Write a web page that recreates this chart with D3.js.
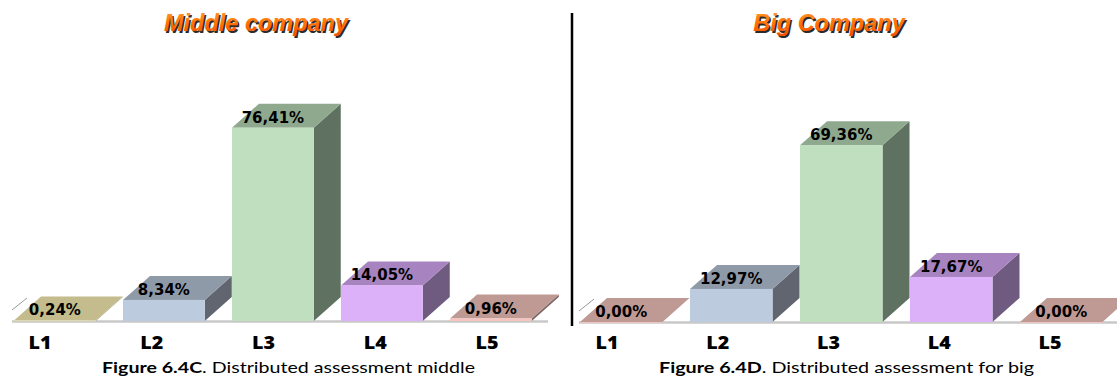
<!DOCTYPE html>
<html>
<head>
<meta charset="utf-8">
<script src="https://cdn.jsdelivr.net/npm/d3@7"></script>
<style>
  html, body { margin: 0; padding: 0; background: #ffffff; }
  svg { display: block; }
</style>
</head>
<body>
<svg id="chart" width="1117" height="381"></svg>
<script>
// ---------- data ----------
const categories = ["L1", "L2", "L3", "L4", "L5"];
const middleValues = [0.24, 8.34, 76.41, 14.05, 0.96];
const bigValues = [0.00, 12.97, 69.36, 17.67, 0.00];
const chartTitles = ["Middle company", "Big Company"];
const captionBold = ["Figure 6.4C", "Figure 6.4D"];
const captionRest = [". Distributed assessment middle", ". Distributed assessment for big"];
const middleColorKeys = ["olive", "blue", "green", "purple", "rose"];
const bigColorKeys = ["rose", "blue", "green", "purple", "rose"];

// ---------- styles ----------
const palette = {
  olive:  { front: "#ece3b2", top: "#c4bc8c", side: "#7f7a5a" },
  blue:   { front: "#bdcbdf", top: "#8f9aa9", side: "#60656f" },
  green:  { front: "#bfdfbf", top: "#8fa98f", side: "#5f7161" },
  purple: { front: "#dcb1f9", top: "#a784bf", side: "#6f5a80" },
  rose:   { front: "#f6c4bf", top: "#bf9a95", side: "#7f6663" }
};
const depthX = 27, depthY = 24;
const fmt = v => d3.format(".2f")(v).replace(".", ",") + "%";

const layouts = [
  { x0: 14, step: 109, base: 321, px100: 253, titleX: 256, labelRange: [40, 487],
    captionX: 102, captionW: 373, floorX0: 12, floorX1: 548 },
  { x0: 580, step: 110, base: 322, px100: 255, titleX: 829, labelRange: [607, 1050],
    captionX: 659, captionW: 375, floorX0: 579, floorX1: 1117 }
];
const seriesValues = [middleValues, bigValues];
const seriesColors = [middleColorKeys, bigColorKeys];

const svg = d3.select("#chart");

// gradient for titles
const defs = svg.append("defs");
const grad = defs.append("linearGradient").attr("id", "titleGrad")
  .attr("x1", 0).attr("y1", 0).attr("x2", 0).attr("y2", 1);
grad.append("stop").attr("offset", "0%").attr("stop-color", "#ff9a2a");
grad.append("stop").attr("offset", "60%").attr("stop-color", "#ff6a00");
grad.append("stop").attr("offset", "100%").attr("stop-color", "#f05000");

layouts.forEach((L, i) => {
  const values = seriesValues[i];
  const colors = seriesColors[i];
  const g = svg.append("g");

  const x = d3.scaleBand()
    .domain(categories)
    .range([L.x0, L.x0 + L.step * 4.75])
    .paddingInner(0.25)
    .paddingOuter(0);
  const y = d3.scaleLinear().domain([0, 100]).range([L.base, L.base - L.px100]);
  const xl = d3.scalePoint().domain(categories).range(L.labelRange);

  // floor
  g.append("line")
    .attr("x1", L.floorX0).attr("x2", L.floorX1)
    .attr("y1", y(0) + 0.5).attr("y2", y(0) + 0.5)
    .attr("stroke", "#c8c8c8").attr("stroke-width", 2.5);
  g.append("line")
    .attr("x1", L.floorX0).attr("y1", y(0) - 11)
    .attr("x2", L.floorX0 + 15).attr("y2", y(0) - 23)
    .attr("stroke", "#9a9a9a").attr("stroke-width", 1);

  const data = categories.map((c, k) => ({ c, v: values[k], col: palette[colors[k]] }));
  const w = x.bandwidth();

  const bars = g.selectAll("g.bar").data(data).join("g").attr("class", "bar");
  // side
  bars.append("polygon")
    .attr("points", d => {
      const x0 = x(d.c), yt = y(d.v), yb = y(0);
      return [[x0 + w, yt], [x0 + w + depthX, yt - depthY], [x0 + w + depthX, yb - depthY], [x0 + w, yb]].join(" ");
    })
    .attr("fill", d => d.col.side);
  // top
  bars.append("polygon")
    .attr("points", d => {
      const x0 = x(d.c), yt = y(d.v);
      return [[x0, yt], [x0 + depthX, yt - depthY], [x0 + w + depthX, yt - depthY], [x0 + w, yt]].join(" ");
    })
    .attr("fill", d => d.col.top);
  // front
  bars.append("rect")
    .attr("x", d => x(d.c))
    .attr("y", d => y(d.v))
    .attr("width", w)
    .attr("height", d => Math.max(y(0) - y(d.v), 0.8))
    .attr("fill", d => d.col.front);

  // value labels
  g.selectAll("text.val").data(data).join("text")
    .attr("class", "val")
    .attr("x", d => x(d.c) + w / 2)
    .attr("y", d => y(d.v) - 5)
    .attr("text-anchor", "middle")
    .attr("font-family", "DejaVu Sans")
    .attr("font-weight", "bold")
    .attr("font-size", 15)
    .attr("fill", "#000")
    .text(d => fmt(d.v));

  // category labels
  g.selectAll("text.cat").data(categories).join("text")
    .attr("class", "cat")
    .attr("x", d => xl(d))
    .attr("y", 348.5)
    .attr("text-anchor", "middle")
    .attr("font-family", "Open Sans")
    .attr("font-weight", "800")
    .attr("font-size", 17)
    .attr("textLength", 23)
    .attr("lengthAdjust", "spacingAndGlyphs")
    .attr("fill", "#000")
    .text(d => d);

  // title with shadow
  [["#2b2b2b", 1.5], ["url(#titleGrad)", 0]].forEach(([fill, off]) => {
    g.append("text")
      .attr("x", L.titleX + off).attr("y", 31 + off)
      .attr("text-anchor", "middle")
      .attr("font-family", "Liberation Sans")
      .attr("font-weight", "bold")
      .attr("font-style", "italic")
      .attr("font-size", 23.5)
      .attr("fill", fill)
      .text(chartTitles[i]);
  });

  // caption
  const cap = g.append("text")
    .attr("x", L.captionX).attr("y", 373)
    .attr("font-family", "Lato")
    .attr("font-size", 16)
    .attr("fill", "#000")
    .attr("textLength", L.captionW)
    .attr("lengthAdjust", "spacingAndGlyphs");
  cap.append("tspan").attr("font-weight", "bold").text(captionBold[i]);
  cap.append("tspan").text(captionRest[i]);
});

// divider
svg.append("line")
  .attr("x1", 572).attr("x2", 572)
  .attr("y1", 13).attr("y2", 326)
  .attr("stroke", "#000").attr("stroke-width", 2.5);
</script>
</body>
</html>
